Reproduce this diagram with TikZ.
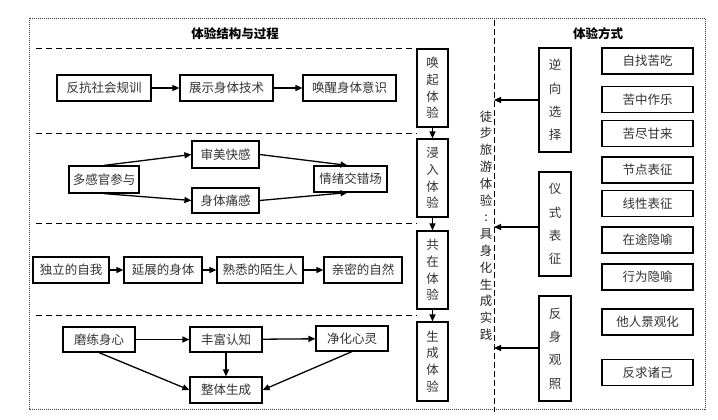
\documentclass[tikz,border=0pt]{standalone}
\usepackage{fontspec}
\newfontfamily\cjk{Noto Sans CJK SC}
\usetikzlibrary{arrows.meta}
\begin{document}
\begin{tikzpicture}[x=1pt,y=-1pt,
  box/.style={draw,line width=1.2pt,inner sep=0pt,minimum height=26pt,
    font=\cjk\fontsize{12.5}{15}\selectfont,text=black!80},
  sbox/.style={box,align=center,minimum width=31pt,
    font=\cjk\fontsize{12.5}{16.7}\selectfont},
  rbox/.style={box,align=center,minimum width=32pt,minimum height=104pt,
    font=\cjk\fontsize{12.5}{23.3}\selectfont},
  mbox/.style={box,minimum width=91pt},
  arr/.style={line width=1.3pt,-{Triangle[length=7pt,width=6pt]}},
  sep/.style={line width=1pt,dash pattern=on 6pt off 4pt},
  ttl/.style={font=\cjk\bfseries\fontsize{12.5}{15}\selectfont,inner sep=0pt},
]
\useasboundingbox (0,0) rectangle (718,420);
\fill[white] (0,0) rectangle (718,420);
% frame and separators
\draw[line width=0.9pt,black!75,dash pattern=on 1pt off 1pt] (29,18) rectangle (705,409);
\draw[line width=1pt,dash pattern=on 6pt off 3pt] (494,20) -- (494,412);
\foreach \yy in {49,133,223,315} \draw[sep] (36,\yy) -- (417,\yy);
% titles
\node[ttl] (t1) at (235,34) {体验结构与过程};
\node[ttl] (t2) at (598,34) {体验方式};
% stage boxes
\node[sbox,minimum height=78pt] (s1) at (432.5,88) {唤\\起\\体\\验};
\node[sbox,minimum height=78pt] (s2) at (432.5,178) {浸\\入\\体\\验};
\node[sbox,minimum height=78pt] (s3) at (432.5,270) {共\\在\\体\\验};
\node[sbox,minimum height=79pt] (s4) at (432.5,361.5) {生\\成\\体\\验};
\draw[arr] (s1) -- (s2);
\draw[arr] (s2) -- (s3);
\draw[arr] (s3) -- (s4);
% row 1
\node[box,minimum width=94pt] (a1) at (104,88) {反抗社会规训};
\node[box,minimum width=93pt] (a2) at (226.5,88) {展示身体技术};
\node[box,minimum width=93pt] (a3) at (349.5,88) {唤醒身体意识};
\draw[arr] (a1) -- (a2);
\draw[arr] (a2) -- (a3);
% row 2
\node[box,minimum width=70pt,minimum height=27pt] (b1) at (104,179.5) {多感官参与};
\node[box,minimum width=67pt,minimum height=27pt] (b2) at (225.5,154.5) {审美快感};
\node[box,minimum width=67pt,minimum height=25pt] (b3) at (225.5,200.5) {身体痛感};
\node[box,minimum width=73pt] (b4) at (350.5,179) {情绪交错场};
\draw[arr] (b1.north) -- (b2.west);
\draw[arr] (b1.south) -- (b3.west);
\draw[arr] (b2.east) -- ([xshift=-3pt]b4.north);
\draw[arr] (b3.east) -- ([xshift=-3pt]b4.south);
% row 3
\node[box,minimum width=76pt] (c1) at (71,270) {独立的自我};
\node[box,minimum width=78pt] (c2) at (163,270) {延展的身体};
\node[box,minimum width=86pt] (c3) at (260,270) {熟悉的陌生人};
\node[box,minimum width=78pt] (c4) at (363,270) {亲密的自然};
\draw[arr] (c1) -- (c2);
\draw[arr] (c2) -- (c3);
\draw[arr] (c3) -- (c4);
% row 4
\node[box,minimum width=72pt,minimum height=25pt] (d1) at (99,339.5) {磨练身心};
\node[box,minimum width=72pt,minimum height=25pt] (d2) at (226,339.5) {丰富认知};
\node[box,minimum width=72pt,minimum height=25pt] (d3) at (352,338.5) {净化心灵};
\node[box,minimum width=72pt] (d4) at (226,390) {整体生成};
\draw[arr] (d1) -- (d2);
\draw[arr] (d2) -- (d3);
\draw[arr] (d2) -- (d4);
\draw[arr] (d1.south) -- (d4.west);
\draw[arr] (d3.south) -- (d4.east);
% vertical caption
\node[align=center,inner sep=0pt,font=\cjk\fontsize{12.5}{16.8}\selectfont,text=black!85] (cap) at (486,225.5)
  {徒\\步\\旅\\游\\体\\验\\:\\具\\身\\化\\生\\成\\实\\践};
% right boxes
\node[rbox] (r1) at (555,100) {逆\\向\\选\\择};
\node[rbox] (r2) at (555,224) {仪\\式\\表\\征};
\node[rbox,minimum height=105pt] (r3) at (555,348.5) {反\\身\\观\\照};
\coordinate (e1) at (494,100);
\coordinate (e2) at (494,227);
\coordinate (e3) at (494,348);
\draw[arr] (r1.west) -- (e1);
\draw[arr] (r2.west |- e2) -- (e2);
\draw[arr] (r3.west |- e3) -- (e3);
% method boxes
\node[mbox] (m1) at (647.5,61) {自找苦吃};
\node[mbox] (m2) at (647.5,99.5) {苦中作乐};
\node[mbox] (m3) at (647.5,133.5) {苦尽甘来};
\node[mbox] (m4) at (647.5,170) {节点表征};
\node[mbox] (m5) at (647.5,203.5) {线性表征};
\node[mbox] (m6) at (647.5,240) {在途隐喻};
\node[mbox] (m7) at (647.5,277) {行为隐喻};
\node[mbox] (m8) at (647.5,322) {他人景观化};
\node[mbox] (m9) at (647.5,372.5) {反求诸己};
\end{tikzpicture}
\end{document}
